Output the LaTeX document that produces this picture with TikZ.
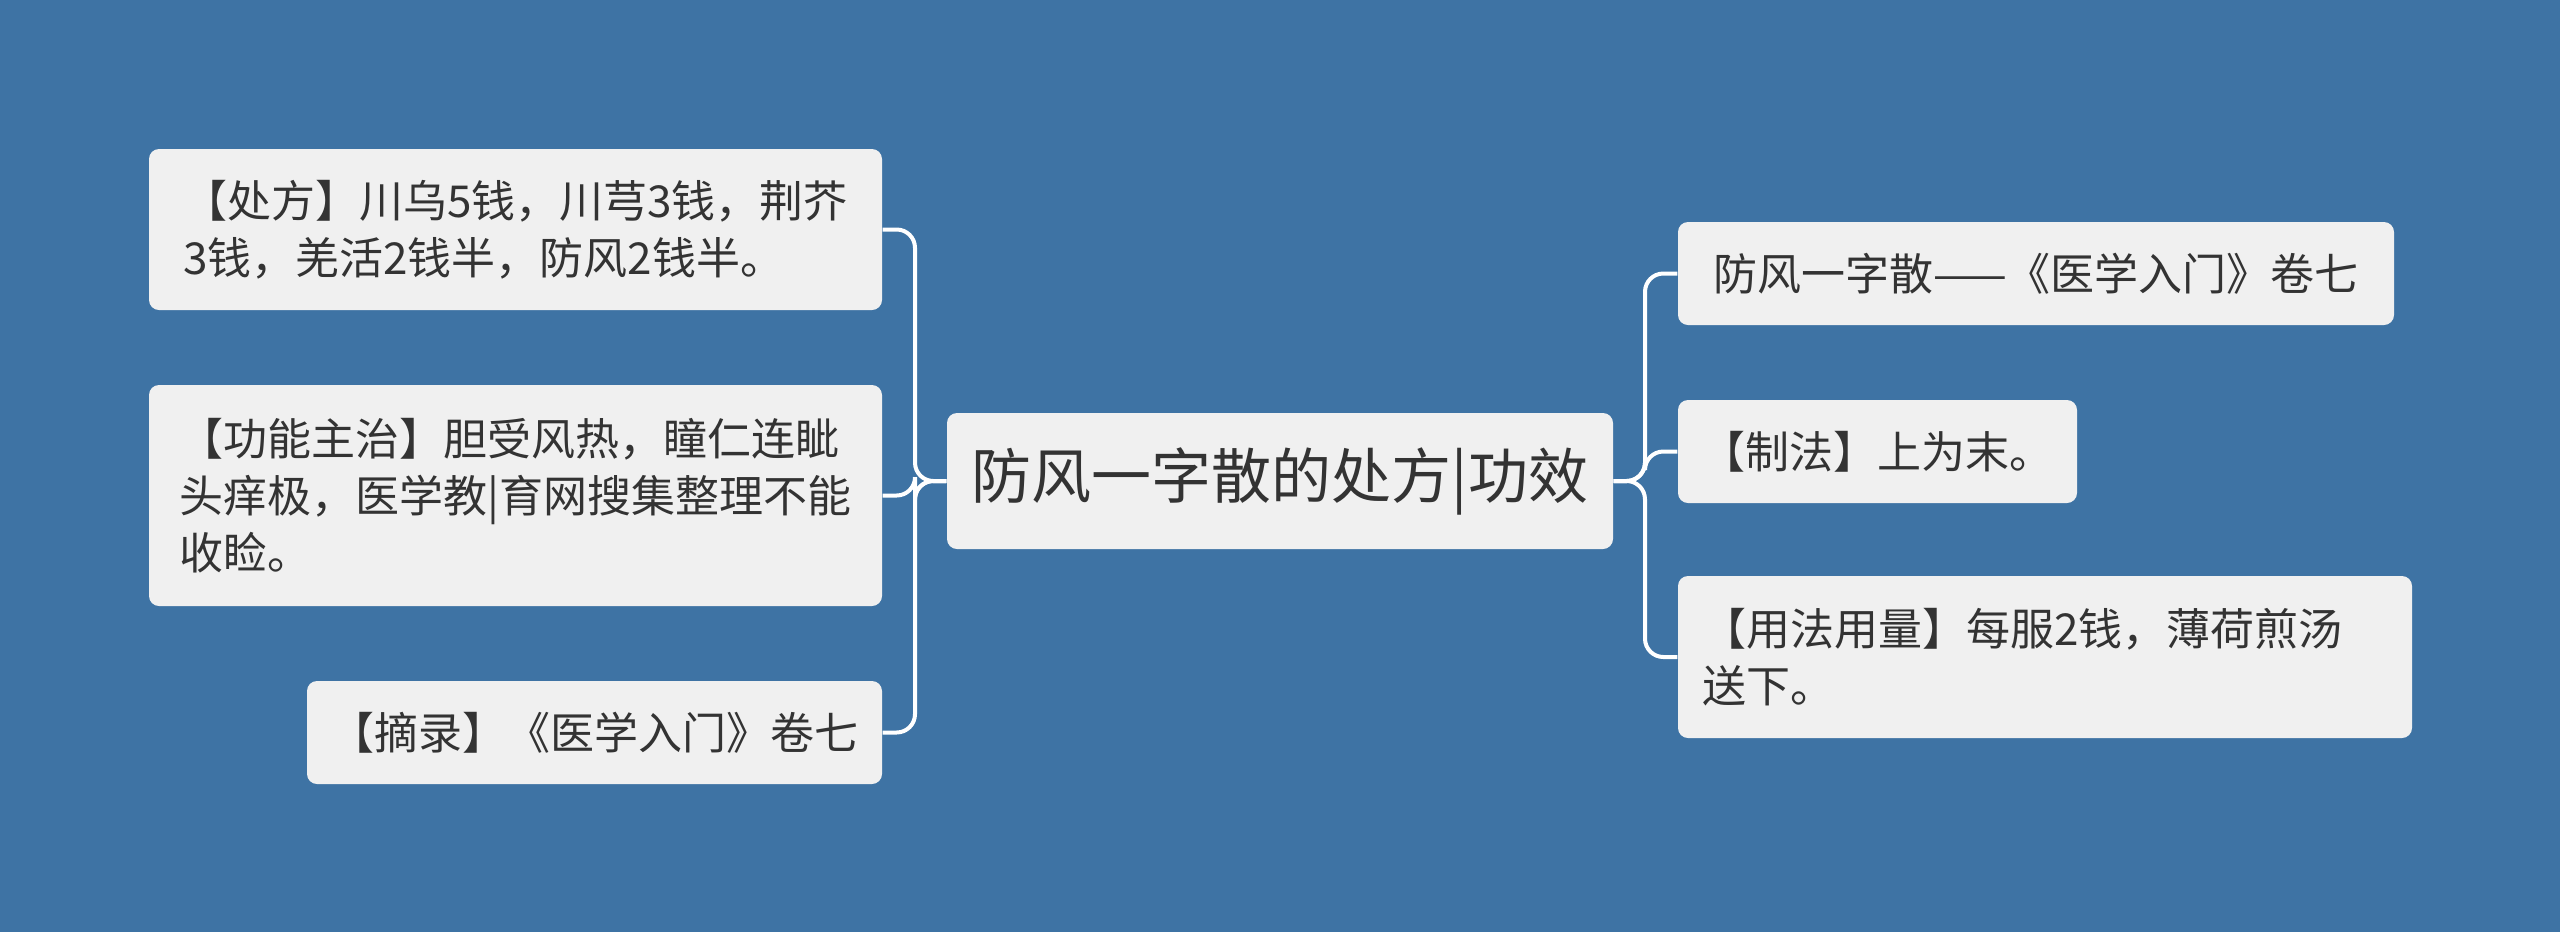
\documentclass[tikz,border=0pt]{standalone}
\usepackage{fontspec}
\setmainfont{Noto Sans CJK SC}
\definecolor{bgblue}{RGB}{62,115,164}
\definecolor{boxfill}{RGB}{240,240,240}
\definecolor{txt}{RGB}{51,51,51}
\begin{document}
\begin{tikzpicture}[x=0.3pt,y=-0.3pt,
  box/.style={fill=boxfill, draw=none, rounded corners=3pt, align=left,
    text=txt, font=\fontsize{13.2pt}{17.2pt}\selectfont, inner sep=0pt},
  mainbox/.style={box, font=\fontsize{18pt}{22pt}\selectfont},
  conn/.style={draw=white, line width=1.2pt, rounded corners=5.5pt}]
\fill[bgblue] (0,0) rectangle (2560,932);
\useasboundingbox (0,0) rectangle (2560,932);

\node[mainbox, minimum width=199.8pt, minimum height=40.8pt] (c) at (1280,481) {防风一字散的处方|功效};

\node[box, minimum width=219.9pt, minimum height=48.3pt] (b1) at (515.5,229.5)
  {【处方】川乌5钱，川芎3钱，荆芥\\3钱，羌活2钱半，防风2钱半。};
\node[box, minimum width=219.9pt, minimum height=66.3pt] (b2) at (515.5,495.5)
  {【功能主治】胆受风热，瞳仁连眦\\头痒极，医学教|育网搜集整理不能\\收睑。};
\node[box, minimum width=172.5pt, minimum height=30.9pt] (b3) at (594.5,732.5)
  {【摘录】《医学入门》卷七};

\node[box, minimum width=214.8pt, minimum height=30.9pt] (r1) at (2036,273.5)
  {防风一字散——《医学入门》卷七};
\node[box, minimum width=119.7pt, minimum height=30.9pt] (r2) at (1877.5,451.5)
  {【制法】上为末。};
\node[box, text width=205.8pt, inner xsep=7.2pt, minimum height=48.6pt] (r3) at (2045,657)
  {【用法用量】每服2钱，薄荷煎汤\\送下。};

\coordinate (lb) at (915,481);
\coordinate (rb) at (1645,481);

\draw[conn] (c.west) -- (lb) |- (b1.east);
\draw[conn] (c.west) -- (lb) |- (b2.east);
\draw[conn] (c.west) -- (lb) |- (b3.east);
\draw[conn] (c.east) -- (rb) |- (r1.west);
\draw[conn] (c.east) -- (rb) |- (r2.west);
\draw[conn] (c.east) -- (rb) |- (r3.west);
\end{tikzpicture}
\end{document}
